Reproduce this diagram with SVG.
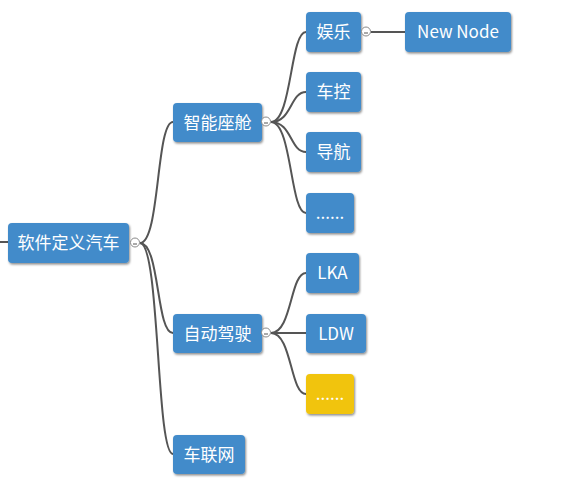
<svg xmlns="http://www.w3.org/2000/svg" width="569" height="497" viewBox="0 0 569 497">
<defs>
<filter id="sh" x="-10%" y="-10%" width="130%" height="140%">
<feDropShadow dx="1" dy="1.5" stdDeviation="0.8" flood-color="#000" flood-opacity="0.45"/>
</filter>
<style>
.n rect{fill:#428bca;filter:url(#sh)}
.n.y rect{fill:#f1c40f}
.n text{fill:#fff;font-family:"Noto Sans CJK SC","Noto Sans",sans-serif;font-size:17px;text-anchor:middle}
.c{fill:none;stroke:#555;stroke-width:2}
.t circle{fill:#fff;stroke:#888;stroke-width:1}
.t line{stroke:#555;stroke-width:1}
</style>
</defs>
<rect width="569" height="497" fill="#fff"/>
<g id="connectors">
<path class="c" d="M0,242 L8,242"/>
<path class="c" d="M140,243 C160,243 156,122 173,122"/>
<path class="c" d="M140,243 C160,243 156,333 173,333"/>
<path class="c" d="M140,243 C160,243 156,454 173,454"/>
<path class="c" d="M271,122 C292,122 290,32 306,32"/>
<path class="c" d="M271,122 C292,122 290,92 306,92"/>
<path class="c" d="M271,122 C292,122 290,152 306,152"/>
<path class="c" d="M271,122 C292,122 290,213 306,213"/>
<path class="c" d="M271,333 C292,333 290,273 306,273"/>
<path class="c" d="M271,333 L306,333"/>
<path class="c" d="M271,333 C292,333 290,394 306,394"/>
<path class="c" d="M371,32 L405,32"/>
</g>
<g id="root" class="n"><rect x="8" y="223" width="121" height="40" rx="4"/><text x="68.5" y="249">软件定义汽车</text></g>
<g id="n-cockpit" class="n"><rect x="173" y="103" width="89" height="39" rx="4"/><text x="217.5" y="128.5">智能座舱</text></g>
<g id="n-adas" class="n"><rect x="173" y="314" width="89" height="39" rx="4"/><text x="217.5" y="339.5">自动驾驶</text></g>
<g id="n-iov" class="n"><rect x="173" y="435" width="72" height="39" rx="4"/><text x="209" y="460.5">车联网</text></g>
<g id="n-ent" class="n"><rect x="306" y="12" width="55" height="40" rx="4"/><text x="333.5" y="38">娱乐</text></g>
<g id="n-ctrl" class="n"><rect x="306" y="72" width="55" height="40" rx="4"/><text x="333.5" y="98">车控</text></g>
<g id="n-nav" class="n"><rect x="306" y="132" width="55" height="40" rx="4"/><text x="333.5" y="158">导航</text></g>
<g id="n-more1" class="n"><rect x="306" y="193" width="48" height="40" rx="4"/><text x="330" y="219">......</text></g>
<g id="n-lka" class="n"><rect x="306" y="253" width="53" height="40" rx="4"/><text x="332.5" y="279">LKA</text></g>
<g id="n-ldw" class="n"><rect x="306" y="314" width="60" height="39" rx="4"/><text x="336" y="339.5">LDW</text></g>
<g id="n-more2" class="n y"><rect x="306" y="374" width="48" height="40" rx="4"/><text x="330" y="400">......</text></g>
<g id="n-new" class="n"><rect x="405" y="12" width="106" height="40" rx="4"/><text x="458" y="38">New Node</text></g>
<g id="toggles" class="t">
<g><circle cx="135" cy="242.5" r="4.5"/><line x1="133" y1="244" x2="137" y2="244"/></g>
<g><circle cx="266" cy="121.5" r="4.5"/><line x1="264" y1="123" x2="268" y2="123"/></g>
<g><circle cx="266" cy="332.5" r="4.5"/><line x1="264" y1="334" x2="268" y2="334"/></g>
<g><circle cx="366" cy="31.5" r="4.5"/><line x1="364" y1="33" x2="368" y2="33"/></g>
</g>
</svg>
